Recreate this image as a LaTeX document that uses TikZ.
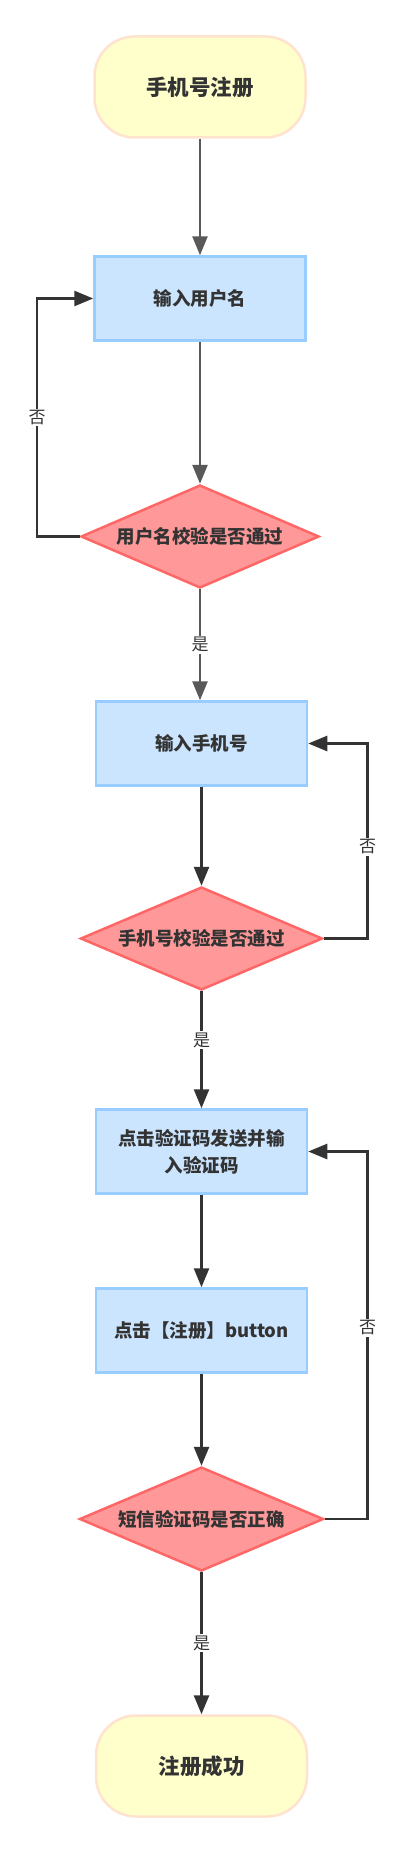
\documentclass[tikz,border=0pt]{standalone}
\usepackage{fontspec}
\usepackage{xcolor}
\usepackage{tikz}
\usetikzlibrary{arrows.meta,positioning,shapes,calc}
\newfontfamily\cjk{Noto Sans CJK SC}

\definecolor{termfill}{HTML}{FFFFCC}
\definecolor{termline}{HTML}{FFE3CF}
\definecolor{stepfill}{HTML}{CCE5FF}
\definecolor{stepline}{HTML}{99CCFF}
\definecolor{chkfill}{HTML}{FF9999}
\definecolor{chkline}{HTML}{FF6666}
\definecolor{flowgray}{HTML}{595959}
\definecolor{flowdark}{HTML}{333333}

\begin{document}
\begin{tikzpicture}[x=1pt, y=1pt,
  term/.style={rectangle, rounded corners=40pt, draw=termline, fill=termfill, line width=2.5pt, minimum width=211pt, minimum height=101pt, text=flowdark, font=\cjk\bfseries\fontsize{21.5}{25}\selectfont},
  stepbox/.style={rectangle, draw=stepline, fill=stepfill, line width=2.5pt, minimum width=211pt, minimum height=84pt, align=center, text=flowdark, font=\cjk\bfseries\fontsize{18.5}{27}\selectfont},
  check/.style={diamond, aspect=2.3, draw=chkline, fill=chkfill, line width=2.5pt, inner sep=0pt, text=flowdark, font=\cjk\bfseries\fontsize{18.5}{22}\selectfont},
  flow/.style={-{Triangle[length=19pt, width=15pt]}, line width=2.6pt, draw=flowdark},
  flowg/.style={flow, draw=flowgray},
  lbl/.style={fill=white, inner sep=1.5pt, text=flowdark, font=\cjk\fontsize{17}{17}\selectfont}
]
\useasboundingbox (0,0) rectangle (405,-1854);

% Steps
\node[term] (start) at (200,-87) {手机号注册};
\node[stepbox] (user) at (200,-298.5) {输入用户名};
\node[check, minimum width=238pt, minimum height=103pt] (userchk) at (200,-536.5) {用户名校验是否通过};
\node[stepbox] (phone) at (201.5,-743.5) {输入手机号};
\node[check, minimum width=242pt, minimum height=103pt] (phonechk) at (201.5,-938.5) {手机号校验是否通过};
\node[stepbox] (code) at (201.5,-1151.5) {点击验证码发送并输\\入验证码};
\node[stepbox] (submit) at (201.5,-1330.5) {点击【注册】button};
\node[check, minimum width=244pt, minimum height=104pt] (codechk) at (201.5,-1519) {短信验证码是否正确};
\node[term] (done) at (201.5,-1766) {注册成功};

% Loop columns
\coordinate (leftcol) at (37,0);
\coordinate (rightcol) at (367.5,0);

% Main flow
\draw[flowg] (start) -- (user);
\draw[flowg] (user) -- (userchk);
\draw[flowg] (userchk) -- node[lbl] {是} (userchk |- phone.north);
\draw[flow] (phone) -- (phonechk);
\draw[flow] (phonechk) -- node[lbl, pos=0.42] {是} (code);
\draw[flow] (code) -- (submit);
\draw[flow] (submit) -- (codechk);
\draw[flow] (codechk) -- node[lbl] {是} (done);

% Retry loops
\draw[flow] (userchk.west) -- (userchk.west -| leftcol) -- node[lbl] {否} (user.west -| leftcol) -- (user.west);
\draw[flow] (phonechk.east) -- (phonechk.east -| rightcol) -- node[lbl, pos=0.47] {否} (phone.east -| rightcol) -- (phone.east);
\draw[flow] (codechk.east) -- (codechk.east -| rightcol) -- node[lbl, pos=0.52] {否} (code.east -| rightcol) -- (code.east);

\end{tikzpicture}
\end{document}
